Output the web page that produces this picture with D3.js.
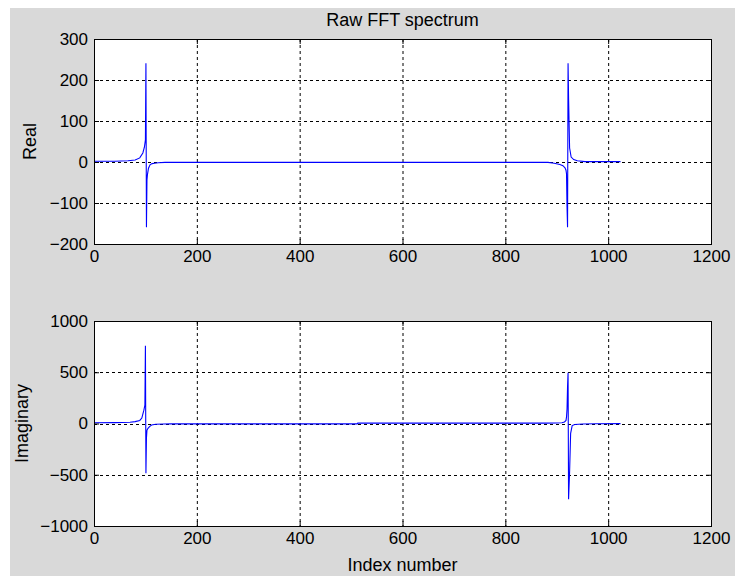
<!DOCTYPE html>
<html>
<head>
<meta charset="utf-8">
<script src="https://cdn.jsdelivr.net/npm/d3@7/dist/d3.min.js"></script>
<style>
  html, body { margin: 0; padding: 0; background: #ffffff; }
  svg { display: block; }
  text { font-family: "Liberation Sans", Arial, sans-serif; fill: #000; }
</style>
</head>
<body>
<svg id="fig" width="735" height="576"></svg>
<script>
// FFT bin index / value pairs for the real part (polyline vertices)
const realIndex = [1, 40, 66, 80, 89, 95, 98, 100, 101, 102, 103, 104, 106, 109, 113, 118, 125, 138, 200, 512, 800, 883, 895, 906, 912, 916, 918, 919, 920, 921, 922, 923, 925, 928, 933, 940, 955, 1000, 1024];
const realValue = [2, 2, 3, 5, 10, 22, 36, 54, 241, -159, -44, -30, -15, -7, -4, -3, -2, -1, -1, -1, -1, -1, -3, -6, -9, -14, -20, -29, -110, -159, 241, 156, 34, 12, 6, 3, 1, 1, 1];

// FFT bin index / value pairs for the imaginary part
const imagIndex = [1, 40, 70, 80, 89, 93, 97, 99, 100, 101, 102, 103, 105, 108, 112, 120, 135, 150, 512, 513, 880, 900, 910, 915, 918, 919, 920, 921, 922, 923, 925, 927, 930, 935, 950, 975, 1024];
const imagValue = [8, 9, 12, 18, 30, 53, 130, 180, 759, -486, -141, -65, -47, -30, -15, -8, -5, -4, -4, 4, 4, 5, 8, 15, 30, 65, 141, 360, 496, -740, -470, -96, -20, -10, -5, -2, -1];

const xTicks = [0, 200, 400, 600, 800, 1000, 1200];
const realTicks = [-200, -100, 0, 100, 200, 300];
const imagTicks = [-1000, -500, 0, 500, 1000];

const titleText = "Raw FFT spectrum";
const xLabelText = "Index number";

const svg = d3.select("#fig");

// figure background
svg.append("rect").attr("x", 10).attr("y", 8).attr("width", 725).attr("height", 568).attr("fill", "#d9d9d9");

const left = 94, right = 711;
const panels = [
  { top: 39, bottom: 244, domain: [-200, 300], ticks: realTicks, idx: realIndex, val: realValue, label: "Real", labelX: 36 },
  { top: 321, bottom: 526, domain: [-1000, 1000], ticks: imagTicks, idx: imagIndex, val: imagValue, label: "Imaginary", labelX: 28 }
];

const x = d3.scaleLinear().domain([0, 1200]).range([left, right]);
const tickFont = "17px";

panels.forEach(p => {
  const y = d3.scaleLinear().domain(p.domain).range([p.bottom, p.top]);
  const g = svg.append("g");

  g.append("rect").attr("x", left).attr("y", p.top).attr("width", right - left).attr("height", p.bottom - p.top).attr("fill", "#fff");

  // dotted grid
  g.selectAll(".vg").data(xTicks).join("line")
    .attr("x1", d => x(d) + 0.5).attr("x2", d => x(d) + 0.5)
    .attr("y1", p.top).attr("y2", p.bottom)
    .attr("stroke", "#000").attr("stroke-width", 1).attr("stroke-dasharray", "3,3");
  g.selectAll(".hg").data(p.ticks).join("line")
    .attr("x1", left).attr("x2", right)
    .attr("y1", d => Math.round(y(d)) + 0.5).attr("y2", d => Math.round(y(d)) + 0.5)
    .attr("stroke", "#000").attr("stroke-width", 1).attr("stroke-dasharray", "3,3");

  // data line
  const pts = p.idx.map((d, i) => [d, p.val[i]]);
  g.append("path").datum(pts)
    .attr("fill", "none").attr("stroke", "#0000ff").attr("stroke-width", 1.1)
    .attr("d", d3.line().x(d => x(d[0])).y(d => y(d[1])));

  // axes with inward ticks on all sides
  const ax = g.append("g").attr("transform", `translate(0,${p.bottom})`)
    .call(d3.axisBottom(x).tickValues(xTicks).tickSizeInner(-5).tickSizeOuter(0).tickPadding(5).tickFormat(d3.format("d")));
  const axTop = g.append("g").attr("transform", `translate(0,${p.top})`)
    .call(d3.axisTop(x).tickValues(xTicks).tickSizeInner(-5).tickSizeOuter(0).tickFormat(""));
  const ay = g.append("g").attr("transform", `translate(${left},0)`)
    .call(d3.axisLeft(y).tickValues(p.ticks).tickSizeInner(-5).tickSizeOuter(0).tickPadding(6).tickFormat(d3.format("d")));
  const ayR = g.append("g").attr("transform", `translate(${right},0)`)
    .call(d3.axisRight(y).tickValues(p.ticks).tickSizeInner(-5).tickSizeOuter(0).tickFormat(""));

  [ax, axTop, ay, ayR].forEach(a => {
    a.select(".domain").remove();
    a.selectAll("line").attr("stroke", "#000");
    a.selectAll("text").style("font-family", '"Liberation Sans", Arial, sans-serif').style("font-size", tickFont).attr("fill", "#000");
  });
  ax.selectAll("text").attr("dy", "0.75em");

  g.append("rect").attr("x", left + 0.5).attr("y", p.top + 0.5).attr("width", right - left).attr("height", p.bottom - p.top)
    .attr("fill", "none").attr("stroke", "#000").attr("stroke-width", 1);

  g.append("text")
    .attr("transform", `translate(${p.labelX},${(p.top + p.bottom) / 2}) rotate(-90)`)
    .attr("text-anchor", "middle").style("font-size", "18px").text(p.label);
});

svg.append("text").attr("x", (left + right) / 2).attr("y", 26).attr("text-anchor", "middle").style("font-size", "18px").text(titleText);
svg.append("text").attr("x", (left + right) / 2).attr("y", 571).attr("text-anchor", "middle").style("font-size", "18px").text(xLabelText);
</script>
</body>
</html>
